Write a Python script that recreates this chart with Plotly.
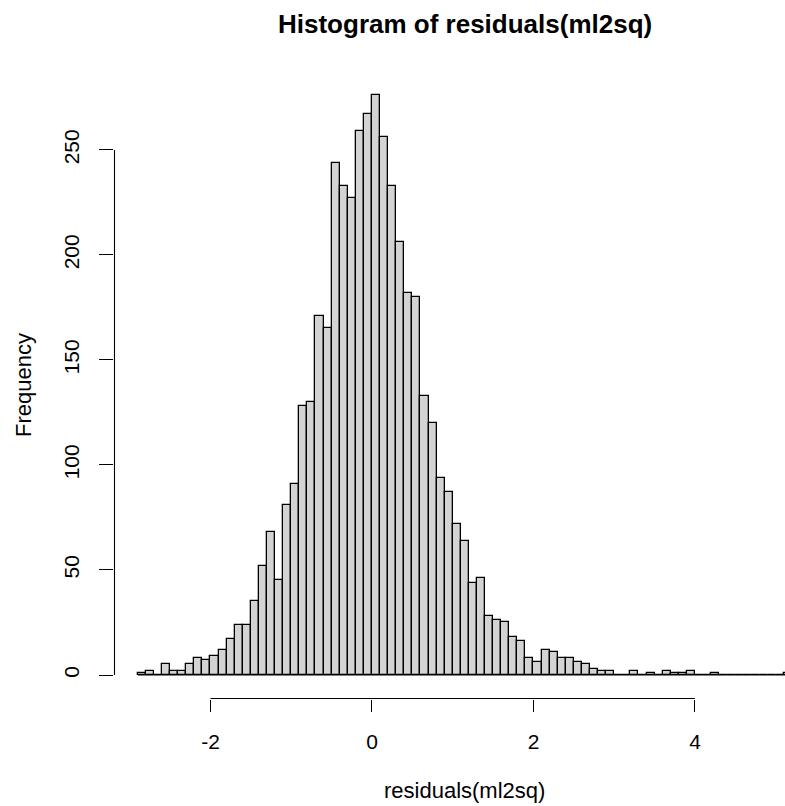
import plotly.graph_objects as go

# ---- data ----
bin_width = 0.1
bin_left = [round(-2.9 + bin_width * i, 1) for i in range(81)]  # -2.9 ... 5.1
counts = [
    1, 2, 0, 5, 2, 2, 5, 8, 7, 9,          # -2.9 .. -2.0
    12, 17, 24, 24, 35, 52, 68, 45, 81, 91,  # -1.9 .. -1.0
    128, 130, 171, 165, 244, 233, 227, 259, 267,  # -0.9 .. -0.1
    276, 256, 233, 206, 182, 180, 133, 120, 94, 87,  # 0.0 .. 0.9
    72, 64, 44, 46, 28, 26, 25, 18, 16, 8,   # 1.0 .. 1.9
    6, 12, 11, 8, 8, 6, 5, 3, 2, 2,          # 2.0 .. 2.9
    0, 0, 2, 0, 1, 0, 2, 1, 1, 2,            # 3.0 .. 3.9
    0, 0, 1, 0, 0, 0, 0, 0, 0, 0,            # 4.0 .. 4.9
    0, 1,                                    # 5.0 .. 5.1
]
x_ticks = [-2, 0, 2, 4]
y_ticks = [0, 50, 100, 150, 200, 250]
title_text = "Histogram of residuals(ml2sq)"
x_label = "residuals(ml2sq)"
y_label = "Frequency"

# ---- geometry ----
W, H = 785, 806
ML, MR, MT, MB = 114, 0, 71, 107
x_range = [-3.195, 5.115]
y_range = [-11.43, 287.6]
FONT = "Liberation Sans, Arial, Helvetica, sans-serif"

centers = [b + bin_width / 2 for b in bin_left]

fig = go.Figure()
fig.add_trace(go.Bar(
    x=centers, y=counts, width=[bin_width] * len(centers),
    marker=dict(color="#D3D3D3", line=dict(color="black", width=1.3)),
    hoverinfo="skip",
))

axis_common = dict(
    showgrid=False, zeroline=False, showline=False,
    ticks="outside", tickwidth=1.2, tickcolor="black",
    tickfont=dict(family=FONT, size=21, color="black"),
)
fig.update_xaxes(range=x_range, tickvals=x_ticks, ticktext=[str(v) for v in x_ticks],
                 ticklen=12, ticklabelstandoff=12, **axis_common)
fig.update_yaxes(range=y_range, tickvals=y_ticks, ticktext=[str(v) for v in y_ticks],
                 ticklen=14, tickangle=-90, ticklabelstandoff=12, **axis_common)

plot_w = W - ML - MR
plot_h = H - MT - MB


def px_x(v):
    return (v - x_range[0]) / (x_range[1] - x_range[0])


def px_y(v):
    return (v - y_range[0]) / (y_range[1] - y_range[0])


# small inward offsets so the 1px lines sit on whole pixels inside the plot area
dx = 0.5 / plot_w
dy = 0.5 / plot_h
shapes = [
    # R-style x axis line spanning the tick range
    dict(type="line", xref="paper", yref="paper", x0=px_x(x_ticks[0]), x1=px_x(x_ticks[-1]),
         y0=dy, y1=dy, line=dict(color="black", width=1.1)),
    # R-style y axis line spanning the tick range
    dict(type="line", xref="paper", yref="paper", x0=dx, x1=dx,
         y0=px_y(y_ticks[0]), y1=px_y(y_ticks[-1]), line=dict(color="black", width=1.1)),
    # histogram baseline (zero-height bins are drawn as lines in R)
    dict(type="line", xref="x", yref="y", x0=bin_left[0], x1=bin_left[-1] + bin_width,
         y0=0, y1=0, line=dict(color="black", width=1.2), layer="above"),
]

center_x_data = (bin_left[0] + bin_left[-1] + bin_width) / 2
annotations = [
    dict(text=f"<b>{title_text}</b>", xref="x", yref="paper", x=center_x_data,
         y=1 + (MT - 24) / plot_h, xanchor="center", yanchor="middle", showarrow=False,
         font=dict(family=FONT, size=26, color="black")),
    dict(text=x_label, xref="x", yref="paper", x=center_x_data,
         y=-(790 - (H - MB)) / plot_h, xanchor="center", yanchor="middle", showarrow=False,
         font=dict(family=FONT, size=22, color="black")),
    dict(text=y_label, xref="paper", yref="paper", x=-(ML - 23) / plot_w, y=0.5,
         xanchor="center", yanchor="middle", textangle=-90, showarrow=False,
         font=dict(family=FONT, size=22, color="black")),
]

fig.update_layout(
    width=W, height=H, autosize=False,
    margin=dict(l=ML, r=MR, t=MT, b=MB, pad=0),
    paper_bgcolor="white", plot_bgcolor="white",
    bargap=0, showlegend=False,
    shapes=shapes, annotations=annotations,
)

fig.write_html("out.html", config={"displayModeBar": False})
